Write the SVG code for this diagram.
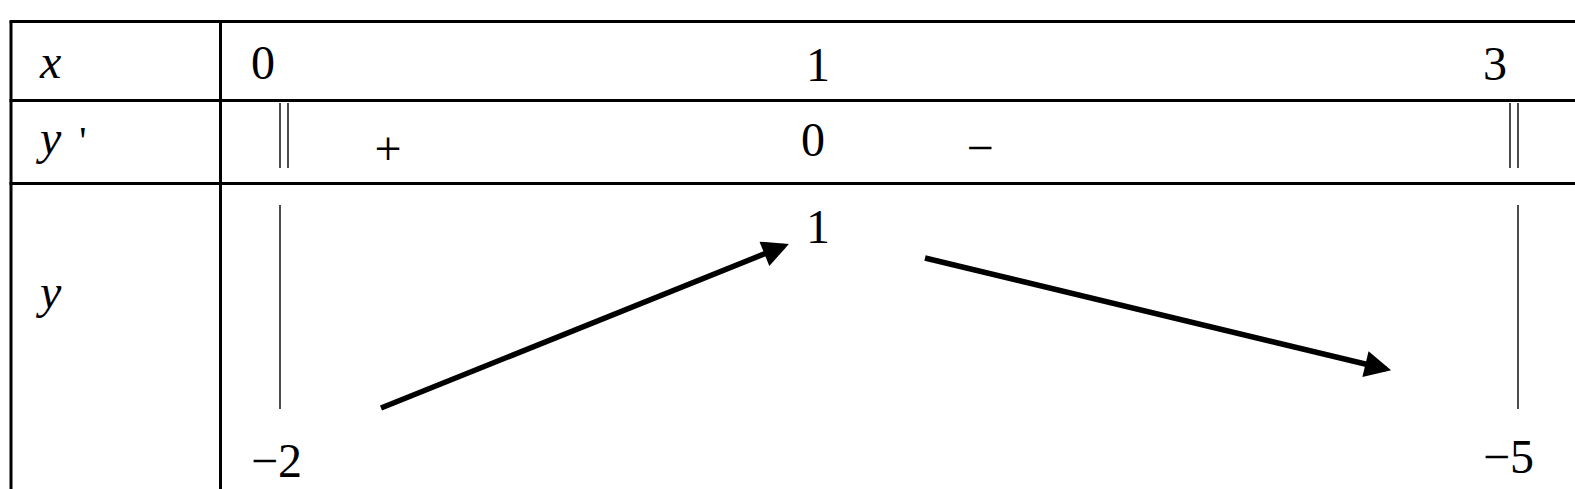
<svg xmlns="http://www.w3.org/2000/svg" width="1575" height="489" viewBox="0 0 1575 489">
<defs>
<style>
.grid{stroke:#000;stroke-width:3;fill:none}
.thin{stroke:#000;stroke-width:1.4;fill:none}
.arr{stroke:#000;stroke-width:5.5;fill:none}
text{font-family:"Liberation Serif","Times New Roman",serif;font-size:48px;fill:#000}
.it{font-style:italic}
</style>
<marker id="ah" viewBox="0 0 10 10" refX="8" refY="5" markerWidth="6.2" markerHeight="4.8" markerUnits="strokeWidth" orient="auto">
<path d="M0,0 L10,5 L0,10 z" fill="#000"/>
</marker>
</defs>
<rect width="1575" height="489" fill="#fff"/>
<g id="table">
<line class="grid" x1="9.5" y1="21.5" x2="1575" y2="21.5"/>
<line class="grid" x1="11" y1="21.5" x2="11" y2="489"/>
<line class="grid" x1="220.5" y1="21.5" x2="220.5" y2="489"/>
<line class="grid" x1="9.5" y1="100.5" x2="1575" y2="100.5"/>
<line class="grid" x1="9.5" y1="183.5" x2="1575" y2="183.5"/>
</g>
<g id="labels">
<text class="it" x="40" y="78">x</text>
<text x="40" y="154"><tspan class="it">y</tspan><tspan dx="18" font-size="40">'</tspan></text>
<text class="it" x="40" y="308">y</text>
</g>
<g id="x-row">
<text x="263" y="79" text-anchor="middle">0</text>
<text x="818" y="81" text-anchor="middle">1</text>
<text x="1495" y="80" text-anchor="middle">3</text>
</g>
<g id="dy-row">
<g id="bar-left">
<line class="thin" x1="280" y1="103" x2="280" y2="168"/>
<line class="thin" x1="288" y1="103" x2="288" y2="168"/>
</g>
<text x="388" y="165" text-anchor="middle">+</text>
<text x="813" y="156" text-anchor="middle">0</text>
<text x="980" y="164" text-anchor="middle">−</text>
<g id="bar-right">
<line class="thin" x1="1510" y1="103" x2="1510" y2="168"/>
<line class="thin" x1="1518" y1="103" x2="1518" y2="168"/>
</g>
</g>
<g id="y-row">
<line class="thin" x1="280" y1="205" x2="280" y2="409"/>
<line class="thin" x1="1518" y1="205" x2="1518" y2="409"/>
<text x="818" y="243" text-anchor="middle">1</text>
<text x="251" y="477">−2</text>
<text x="1483" y="473">−5</text>
</g>
<g id="connectors">
<line class="arr" x1="381" y1="408" x2="784" y2="246" marker-end="url(#ah)"/>
<line class="arr" x1="925" y1="258" x2="1386" y2="369" marker-end="url(#ah)"/>
</g>
</svg>
